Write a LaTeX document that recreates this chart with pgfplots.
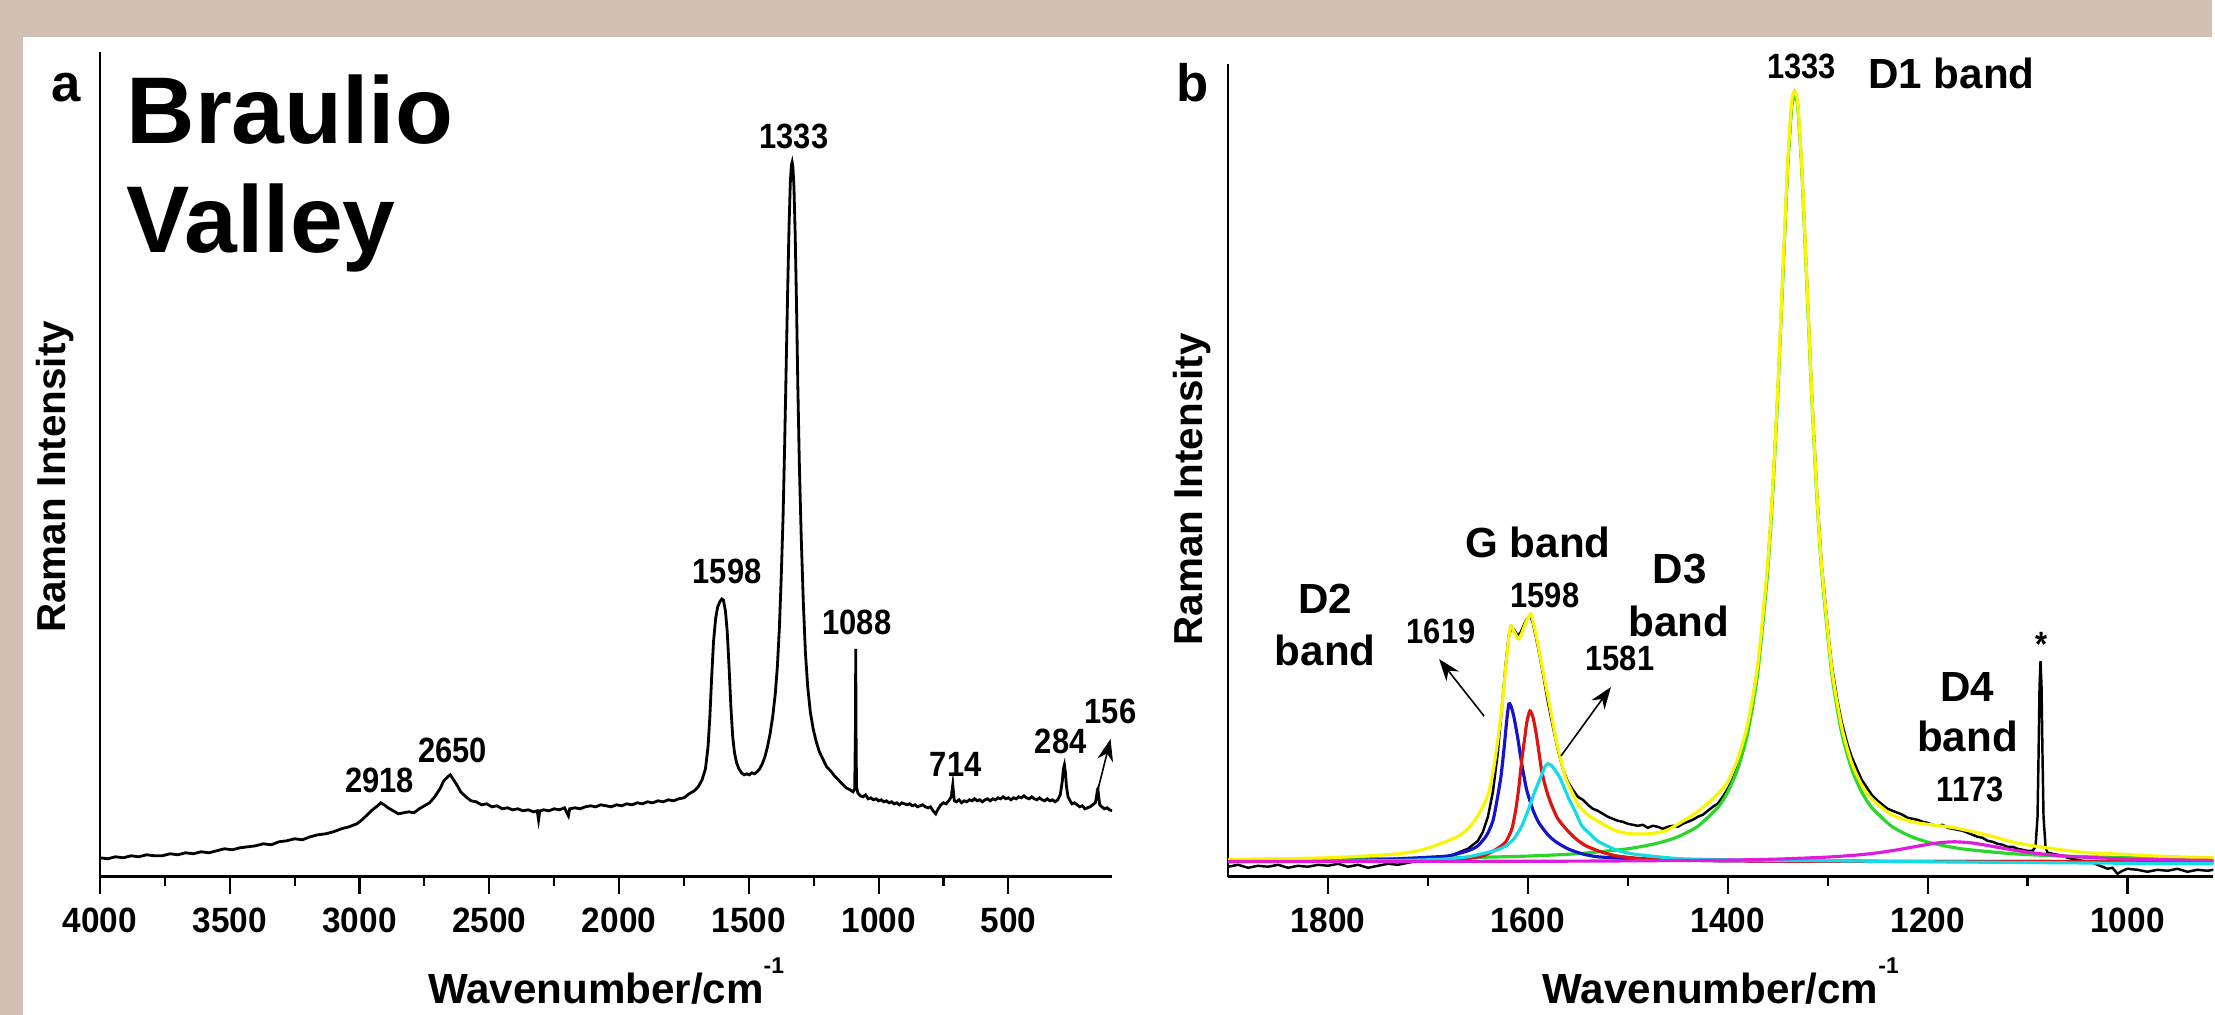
\documentclass[border=0pt]{standalone}
\usepackage{fontspec}
\setmainfont{Liberation Sans}
\newfontfamily\nbf{Liberation Sans}[FakeStretch=0.88]
\newfontfamily\tbf{Liberation Sans}[FakeStretch=0.95]
\usepackage{pgfplots}
\pgfplotsset{compat=1.18}
\usetikzlibrary{arrows.meta}

\definecolor{bgtan}{RGB}{211,192,180}
\definecolor{fitY}{RGB}{250,245,0}
\definecolor{fitG}{RGB}{40,215,40}
\definecolor{fitB}{RGB}{20,20,200}
\definecolor{fitR}{RGB}{220,20,20}
\definecolor{fitC}{RGB}{20,220,230}
\definecolor{fitM}{RGB}{220,30,220}

\newcommand{\numf}{\nbf\bfseries\fontsize{10}{12}\selectfont}
\newcommand{\tickf}{\tbf\bfseries\fontsize{10}{12}\selectfont}
\newcommand{\bandf}{\bfseries\fontsize{12}{14}\selectfont}
\newcommand{\wnlabel}{Wavenumber/cm\raisebox{0.72em}{\fontsize{6.5}{7}\selectfont -1}}

\pgfplotsset{
  raman/.style={
    scale only axis,
    axis x line*=bottom, axis y line*=left,
    x dir=reverse,
    ymin=0, ytick=\empty,
    x axis line style={line width=0.9pt},
    y axis line style={line width=0.6pt},
    tick align=outside,
    major tick length=0.17cm, minor tick length=0.09cm,
    tick style={line width=0.6pt, black},
    minor x tick num=1,
    /pgf/number format/assume math mode=true,
    /pgf/number format/1000 sep={},
    xticklabel style={font=\tickf, anchor=base, yshift=-0.39cm},
    xlabel=\wnlabel,
    xlabel style={font=\bfseries\fontsize{12}{14}\selectfont, inner sep=0pt,
      at={(axis description cs:0.5,0)}, anchor=base, yshift=-1.27cm},
    ylabel={Raman Intensity},
  }
}

\begin{document}
\begin{tikzpicture}
\begin{scope}[x=0.01cm, y=0.01cm]
\useasboundingbox (0,0) rectangle (2215,1016);
\fill[bgtan] (0,0) rectangle (2215,1016);
\fill[white] (23,0) rectangle (2215,979);
\end{scope}

% ---------------- panel a: full spectrum
\begin{axis}[raman,
  at={(1cm,1.38cm)}, anchor=south west,
  width=10.13cm, height=8.25cm,
  xmin=100, xmax=4000, ymax=825,
  xtick={500,1000,...,4000},
  ylabel style={font=\bfseries\fontsize{11.5}{14}\selectfont, inner sep=0pt,
    at={(axis description cs:-0.0444,0.485)}, anchor=center},
]
\addplot[black, line width=0.8pt] coordinates {
(4000,19)(3970,18)(3940,20)(3910,19)(3880,21)(3850,20)(3820,22)(3790,21)(3760,21)(3730,23)
(3700,22)(3670,24)(3640,23)(3610,25)(3580,24)(3550,26)(3520,28)(3490,27)(3460,29)(3430,30)
(3400,31)(3370,33)(3340,32)(3310,35)(3280,36)(3250,38)(3220,37)(3190,40)(3160,42)(3130,43)
(3100,45)(3070,48)(3040,50)(3010,53)(2990,57)(2970,62)(2950,67)(2930,71)(2918,74)(2905,72)
(2890,69)(2870,66)(2850,63)(2830,64)(2810,65)(2790,64)(2770,68)(2750,71)(2730,74)(2710,80)
(2690,88)(2675,96)(2660,100)(2650,102)(2640,98)(2625,92)(2610,85)(2590,80)(2570,76)(2550,75)
(2530,72)(2510,73)(2490,70)(2470,71)(2450,68)(2430,69)(2410,67)(2390,68)(2370,66)(2350,67)
(2330,65)(2315,66)(2310,57)(2305,66)(2290,67)(2270,66)(2250,68)(2230,67)(2210,69)(2195,61)
(2190,68)(2170,69)(2150,68)(2130,70)(2110,71)(2090,70)(2070,72)(2050,71)(2030,70)(2010,72)
(1990,71)(1970,73)(1950,72)(1930,74)(1910,73)(1890,75)(1870,74)(1850,76)(1830,75)(1810,77)
(1790,76)(1770,78)(1750,79)(1730,83)(1710,86)(1695,90)(1680,97)(1667,108)(1657,130)(1650,160)
(1643,200)(1636,235)(1628,258)(1620,270)(1612,275)(1604,278)(1598,277)(1590,266)(1583,245)(1576,210)
(1569,170)(1562,140)(1555,124)(1547,114)(1538,108)(1528,104)(1518,102)(1508,103)(1498,102)(1488,104)
(1478,103)(1468,105)(1458,108)(1448,113)(1438,120)(1428,130)(1418,143)(1408,160)(1398,183)(1390,210)
(1382,250)(1375,300)(1368,360)(1362,430)(1356,510)(1350,590)(1345,650)(1340,695)(1336,712)(1333,715)
(1330,710)(1326,690)(1321,640)(1316,570)(1311,490)(1305,410)(1298,340)(1290,275)(1282,225)(1273,190)
(1263,165)(1252,148)(1240,135)(1228,125)(1215,118)(1200,110)(1185,106)(1170,101)(1155,97)(1140,93)
(1125,89)(1110,87)(1098,85)(1092,88)(1089,150)(1088,228)(1087,150)(1085,90)(1080,84)(1070,81)
(1060,80)(1050,82)(1040,78)(1030,79)(1020,77)(1010,78)(1000,76)(990,77)(980,75)(970,76)
(960,74)(950,75)(940,73)(930,74)(920,72)(910,74)(900,73)(890,72)(880,73)(870,71)
(860,72)(850,70)(840,71)(830,72)(820,70)(810,69)(800,70)(790,66)(780,63)(770,68)
(760,72)(750,74)(740,73)(730,76)(720,80)(716,88)(714,92)(712,86)(708,76)(700,75)
(690,77)(680,74)(670,76)(660,75)(650,77)(640,76)(630,78)(620,76)(610,77)(600,75)
(590,77)(580,78)(570,76)(560,78)(550,77)(540,79)(530,78)(520,80)(510,78)(500,79)
(490,77)(480,79)(470,78)(460,80)(450,79)(440,81)(430,79)(420,78)(410,80)(400,78)
(390,77)(380,79)(370,77)(360,76)(350,78)(340,76)(330,77)(320,75)(310,77)(300,82)
(292,96)(288,108)(284,112)(280,104)(276,90)(270,80)(262,76)(255,73)(245,74)(235,72)
(225,70)(215,71)(205,68)(195,69)(185,70)(175,72)(165,74)(160,80)(157,87)(155,88)
(152,80)(148,72)(140,70)(130,68)(120,69)(110,67)(100,66)};
\end{axis}

% ---------------- panel b: fitted first-order region
\begin{axis}[raman,
  at={(12.29cm,1.38cm)}, anchor=south west,
  width=9.86cm, height=8.13cm,
  xmin=914, xmax=1900, ymax=813,
  xtick={1000,1200,...,1800},
  ylabel style={font=\bfseries\fontsize{11.5}{14}\selectfont, inner sep=0pt,
    at={(axis description cs:-0.0365,0.477)}, anchor=center},
]
% measured spectrum
\addplot[black, line width=0.7pt] coordinates {
(1900,10)(1890,12)(1880,9)(1870,11)(1860,10)(1850,12)(1840,9)(1830,11)(1820,10)(1810,12)
(1800,11)(1790,13)(1780,10)(1770,12)(1760,9)(1750,11)(1740,13)(1730,12)(1720,14)(1710,16)
(1700,15)(1690,18)(1680,20)(1670,24)(1660,28)(1650,36)(1645,45)(1640,60)(1635,85)(1630,125)
(1626,170)(1622,215)(1619,242)(1616,250)(1613,246)(1610,241)(1607,245)(1604,252)(1601,258)(1598,262)
(1595,254)(1592,240)(1588,220)(1584,198)(1580,175)(1575,150)(1570,127)(1565,108)(1560,95)(1555,87)
(1550,80)(1545,77)(1540,72)(1535,68)(1530,66)(1525,63)(1520,60)(1515,58)(1510,56)(1505,55)
(1500,53)(1495,52)(1490,51)(1485,52)(1480,49)(1475,51)(1470,50)(1465,48)(1460,50)(1455,51)
(1450,50)(1445,53)(1440,55)(1435,57)(1430,60)(1425,62)(1420,66)(1415,70)(1410,73)(1405,80)
(1400,88)(1395,98)(1390,112)(1385,128)(1380,150)(1375,178)(1370,210)(1365,255)(1360,312)(1355,388)
(1350,485)(1345,598)(1340,710)(1336,772)(1333,784)(1330,774)(1326,712)(1321,600)(1316,487)(1311,390)
(1306,312)(1300,250)(1296,212)(1290,175)(1286,155)(1280,132)(1276,120)(1270,106)(1266,97)(1260,88)
(1256,82)(1250,76)(1245,72)(1240,68)(1235,66)(1230,64)(1225,62)(1220,59)(1215,58)(1210,57)
(1205,55)(1200,54)(1195,52)(1190,51)(1185,52)(1180,49)(1175,48)(1170,47)(1165,46)(1160,44)
(1155,42)(1150,40)(1145,39)(1140,36)(1135,35)(1130,33)(1125,32)(1120,30)(1115,30)(1110,28)
(1105,27)(1100,26)(1095,26)(1092,30)(1090,60)(1089,120)(1088,190)(1087,216)(1086,190)(1085,120)
(1084,60)(1082,30)(1080,24)(1075,23)(1070,22)(1065,21)(1060,19)(1055,18)(1050,17)(1045,16)
(1040,15)(1035,14)(1030,12)(1025,10)(1020,8)(1015,9)(1010,3)(1005,6)(1000,8)(990,7)
(980,5)(970,7)(960,6)(950,8)(940,5)(930,7)(920,6)(914,7)};
% D1 band
\addplot[fitG, line width=0.9pt, smooth, tension=0.4] coordinates {
(1900,17.1)(1800,17.6)(1700,18.5)(1650,19.4)(1600,20.7)(1550,23.1)(1500,28)(1470,33.7)(1450,40)
(1430,50.5)(1410,69.3)(1400,84.9)(1390,108)(1380,144)(1370,204)(1360,306)(1355,383)(1350,481)
(1345,596)(1340,709)(1336,771)(1333,782)(1330,771)(1326,709)(1321,596)(1316,481)(1311,383)
(1306,306)(1296,204)(1286,144)(1276,108)(1266,84.9)(1256,69.3)(1236,50.5)(1216,40)(1196,33.7)
(1166,28)(1116,23.1)(1066,20.7)(1016,19.4)(966,18.5)(914,17.9)};
% D2 band
\addplot[fitB, line width=0.9pt, smooth, tension=0.4] coordinates {
(1900,15.5)(1800,16)(1750,17)(1729,18)(1700,19.5)(1679,21)(1660,26)(1650,31)(1641,42)(1635,56)
(1631,76)(1627,100)(1624,127)(1621,158)(1619,173)(1617,171)(1614,160)(1610,138)(1607,118)(1604,101)
(1601,86)(1595,67)(1589,54)(1580,42)(1572,35)(1560,28)(1546,23)(1530,20)(1496,18)(1450,16.5)
(1400,16)(1300,15.5)(914,15)};
% G band
\addplot[fitR, line width=0.9pt, smooth, tension=0.4] coordinates {
(1900,15.3)(1750,16)(1700,16.5)(1662,18)(1645,21)(1636,25)(1628,30)(1622,35)(1616,48)(1612,68)
(1609,90)(1606,118)(1603,140)(1601,155)(1598,166)(1595,160)(1592,145)(1589,125)(1586,105)(1581,85)
(1576,71)(1570,58)(1562,48)(1552,38)(1542,31)(1527,25)(1512,21)(1490,18.5)(1462,17)(1400,16)
(1300,15.5)(914,15.2)};
% D3 band
\addplot[fitC, line width=0.9pt, smooth, tension=0.4] coordinates {
(1900,15.5)(1750,16)(1700,17)(1679,18)(1660,20)(1646,23)(1630,27)(1622,31)(1614,38)(1606,51)
(1600,66)(1595,80)(1592,88)(1587,100)(1583,110)(1580,113)(1576,111)(1569,101)(1564,90)(1559,78)
(1552,64)(1546,51)(1537,42)(1529,35)(1512,27)(1496,23)(1470,20)(1446,18)(1400,17)(1300,16)
(1200,15)(1000,13.5)(914,13)};
% cumulative fit
\addplot[fitY, line width=0.9pt, smooth, tension=0.4] coordinates {
(1900,17)(1850,18)(1800,19)(1760,21)(1729,23)(1710,26)(1696,30)(1680,36)(1669,41)(1660,48)
(1652,58)(1645,70)(1639,85)(1634,110)(1629,145)(1625,180)(1622,211)(1619,240)(1617,251)(1614,246)
(1611,240)(1609,238)(1606,244)(1603,252)(1600,259)(1597,263)(1594,252)(1591,238)(1587,217)(1582,191)
(1577,165)(1572,138)(1567,117)(1562,98)(1555,83)(1549,71)(1540,62)(1529,55)(1512,46)(1496,43)
(1479,43)(1462,46)(1446,55)(1429,66)(1412,81)(1400,95)(1390,118)(1380,153)(1370,212)(1360,314)
(1355,390)(1350,487)(1345,602)(1340,714)(1336,776)(1333,786)(1330,774)(1326,712)(1321,600)(1316,485)
(1311,387)(1306,310)(1296,209)(1286,150)(1276,114)(1266,92)(1256,78)(1236,62)(1216,55)(1196,52)
(1173,49)(1150,44)(1130,39)(1116,35)(1095,31)(1066,27)(1040,24)(1016,23)(966,20.5)(914,19)};
% D4 band
\addplot[fitM, line width=0.9pt, smooth, tension=0.4] coordinates {
(1900,15.2)(1600,15.5)(1500,15.9)(1400,16.7)(1350,17.7)(1300,19.7)(1270,21.8)(1250,24)(1230,27)
(1210,30.6)(1190,33.9)(1173,35)(1155,33.8)(1135,30.4)(1115,26.9)(1095,23.9)(1075,21.8)(1050,19.9)
(1000,17.8)(950,16.8)(914,16.4)};
\end{axis}

% ---------------- annotations
\begin{scope}[x=0.01cm, y=0.01cm]
\node[inner sep=0, anchor=base, font=\bfseries\fontsize{15}{18}\selectfont] at (66,914) {a};
\node[inner sep=0, anchor=base, font=\bfseries\fontsize{15}{18}\selectfont] at (1194,914) {b};
\node[inner sep=0, anchor=base west, font=\bfseries\fontsize{27}{32}\selectfont] at (126,872) {Braulio};
\node[inner sep=0, anchor=base west, font=\bfseries\fontsize{27}{32}\selectfont] at (126,763) {Valley};

\begin{scope}[every node/.style={inner sep=0, font=\numf}]
\node at (380,235) {2918};
\node at (453,265) {2650};
\node at (728,444) {1598};
\node at (795,879) {1333};
\node at (858,393) {1088};
\node at (957,251) {714};
\node at (1062,274) {284};
\node at (1112,304) {156};
\node at (1804,949) {1333};
\node at (1443,384) {1619};
\node at (1547,420) {1598};
\node at (1622,357) {1581};
\node at (1973,226) {1173};
\node[anchor=north] at (2044,384) {*};
\end{scope}

\begin{scope}[every node/.style={inner sep=0, font=\bandf}]
\node at (1954,942) {D1 band};
\node at (1540,473) {G band};
\node at (1327,416) {D2};
\node at (1327,365) {band};
\node at (1682,446) {D3};
\node at (1681,394) {band};
\node at (1970,328) {D4};
\node at (1970,279) {band};
\end{scope}

\begin{scope}[line width=0.45pt, -{Stealth[length=2.2mm, width=1.6mm]}]
\draw (1097,216) -- (1112,276);
\draw (1486,299) -- (1441,356);
\draw (1563,259) -- (1613,328);
\end{scope}
\end{scope}
\end{tikzpicture}
\end{document}
